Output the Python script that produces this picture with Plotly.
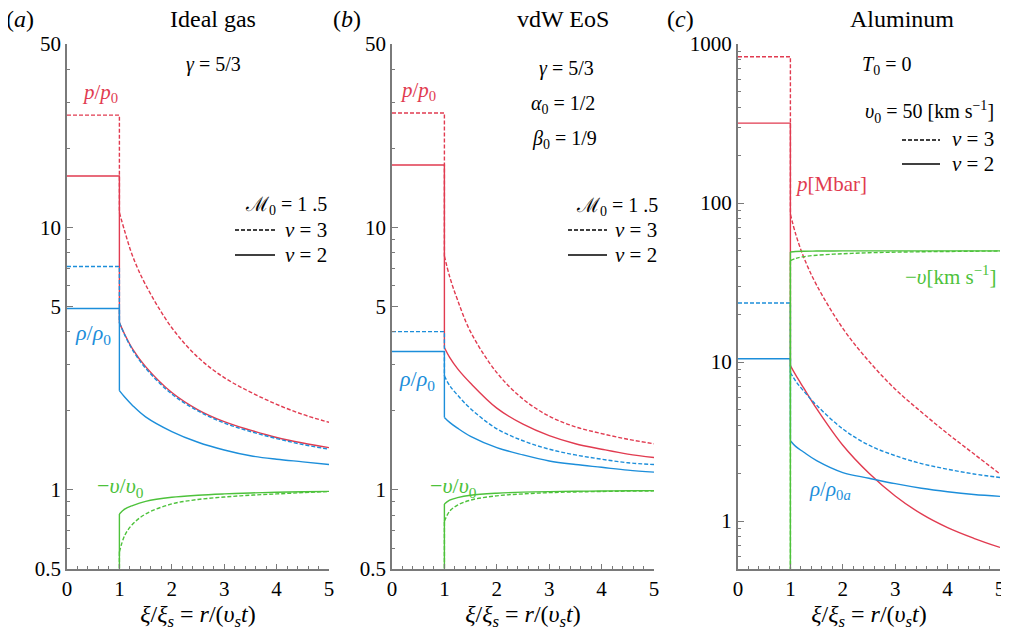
import plotly.graph_objects as go
import math

# ---------------- data ----------------
# abscissa samples outside the shock, xi/xi_s
XI = [1.0, 1.1, 1.25, 1.5, 2.0, 2.5, 3.0, 3.5, 4.0, 4.5, 5.0]

# (a) ideal gas : plateau values inside the shock (0 < xi < 1)
A_P3_IN, A_P2_IN = 26.8, 15.7
A_R3_IN, A_R2_IN = 7.1, 4.91
A_V_IN = 0.0
# (a) outside the shock
A_P3 = [11.4, 9.7, 7.8, 6.05, 4.15, 3.2, 2.68, 2.36, 2.12, 1.94, 1.81]
A_P2 = [4.34, 3.92, 3.45, 2.95, 2.35, 2.02, 1.82, 1.69, 1.585, 1.51, 1.45]
A_R3 = [4.34, 3.90, 3.42, 2.91, 2.32, 2.00, 1.80, 1.67, 1.57, 1.49, 1.43]
A_R2 = [2.39, 2.26, 2.10, 1.90, 1.67, 1.52, 1.42, 1.35, 1.31, 1.28, 1.25]
A_V3 = [0.58, 0.67, 0.74, 0.81, 0.885, 0.92, 0.94, 0.955, 0.966, 0.977, 0.986]
A_V2 = [0.81, 0.845, 0.872, 0.905, 0.938, 0.955, 0.966, 0.974, 0.980, 0.985, 0.988]

# (b) vdW EoS
B_P3_IN, B_P2_IN = 27.3, 17.3
B_R3_IN, B_R2_IN = 4.01, 3.37
B_V_IN = 0.0
B_P3 = [7.79, 6.5, 5.3, 4.0, 2.80, 2.22, 1.91, 1.74, 1.64, 1.56, 1.50]
B_P2 = [3.49, 3.2, 2.9, 2.55, 2.05, 1.78, 1.61, 1.50, 1.43, 1.37, 1.33]
B_R3 = [2.72, 2.5, 2.3, 2.04, 1.71, 1.54, 1.43, 1.36, 1.31, 1.27, 1.25]
B_R2 = [1.89, 1.81, 1.72, 1.60, 1.45, 1.36, 1.29, 1.25, 1.22, 1.19, 1.17]
B_V3 = [0.76, 0.83, 0.875, 0.915, 0.95, 0.966, 0.977, 0.983, 0.987, 0.990, 0.992]
B_V2 = [0.885, 0.915, 0.935, 0.955, 0.972, 0.981, 0.986, 0.989, 0.991, 0.993, 0.994]

# (c) aluminum
C_P3_IN, C_P2_IN = 832.0, 318.0
C_R3_IN, C_R2_IN = 23.5, 10.5
C_V_IN = 0.0
C_P3 = [85.0, 64.0, 46.0, 30.5, 16.3, 10.1, 6.76, 4.85, 3.55, 2.65, 1.98]
C_P2 = [9.5, 8.3, 6.9, 5.1, 3.0, 2.0, 1.44, 1.11, 0.91, 0.78, 0.683]
C_R3 = [8.6, 7.6, 6.6, 5.35, 3.8, 3.0, 2.58, 2.3, 2.12, 1.98, 1.88]
C_R2 = [3.2, 2.95, 2.72, 2.4, 2.02, 1.86, 1.72, 1.61, 1.53, 1.47, 1.43]
C_V3 = [43.5, 44.8, 46.0, 47.0, 48.0, 48.7, 49.1, 49.4, 49.6, 49.8, 49.9]
C_V2 = [49.2, 49.6, 49.8, 49.9, 50.0, 50.0, 50.0, 50.0, 50.0, 50.0, 50.0]

X_TICKS = [0, 1, 2, 3, 4, 5]
AB_YTICKS = [0.5, 1, 5, 10, 50]
AB_YTEXT = ["0.5", "1", "5", "10", "50"]
C_YTICKS = [1, 10, 100, 1000]
C_YTEXT = ["1", "10", "100", "1000"]

# ---------------- styles ----------------
RED = "#E13B50"
BLUE = "#1C8EDA"
GREEN = "#4DC23B"
DASH = "4px,2px"
LW = 1.4
FONT = "Liberation Serif, Times New Roman, serif"
OFF = 8                      # page body margin of the html page
W, H = 1009 - OFF, 634 - OFF
FLOOR = 1e-3  # display value for zero velocity on a log axis


def fx(px):
    return (px - OFF) / W


def fy(py):
    return 1 - (py - OFF) / H


fig = go.Figure()


def add_series(k, y_in, ys, color, dash):
    xa = "x" if k == 1 else f"x{k}"
    ya = "y" if k == 1 else f"y{k}"
    yin = y_in if y_in > 0 else FLOOR
    line = dict(color=color, width=LW, dash=dash)
    fig.add_trace(go.Scatter(x=[0, XI[0], XI[0]], y=[yin, yin, ys[0]], mode="lines",
                             line=line, xaxis=xa, yaxis=ya, showlegend=False, hoverinfo="skip"))
    fig.add_trace(go.Scatter(x=XI, y=ys, mode="lines", line=dict(line, shape="spline", smoothing=1.0),
                             xaxis=xa, yaxis=ya, showlegend=False))


panels = [
    (1, [(A_P3_IN, A_P3, RED, DASH), (A_P2_IN, A_P2, RED, "solid"),
         (A_R3_IN, A_R3, BLUE, DASH), (A_R2_IN, A_R2, BLUE, "solid"),
         (A_V_IN, A_V3, GREEN, DASH), (A_V_IN, A_V2, GREEN, "solid")]),
    (2, [(B_P3_IN, B_P3, RED, DASH), (B_P2_IN, B_P2, RED, "solid"),
         (B_R3_IN, B_R3, BLUE, DASH), (B_R2_IN, B_R2, BLUE, "solid"),
         (B_V_IN, B_V3, GREEN, DASH), (B_V_IN, B_V2, GREEN, "solid")]),
    (3, [(C_P3_IN, C_P3, RED, DASH), (C_P2_IN, C_P2, RED, "solid"),
         (C_R3_IN, C_R3, BLUE, DASH), (C_R2_IN, C_R2, BLUE, "solid"),
         (C_V_IN, C_V3, GREEN, DASH), (C_V_IN, C_V2, GREEN, "solid")]),
]
for k, series in panels:
    for s in series:
        add_series(k, *s)

# ---------------- axes ----------------
XDOM = [(67, 329), (392, 654), (738, 1000)]
YDOM = [fy(569), fy(44)]
AXC = "#7a7a7a"
tickfont = dict(family=FONT, size=21, color="black")
minor_ab = [0.6, 0.7, 0.8, 0.9, 2, 3, 4, 6, 7, 8, 9, 20, 30, 40]
minor_c = [0.6, 0.7, 0.8, 0.9] + [i for i in range(2, 10)] + [10 * i for i in range(2, 10)] + [100 * i for i in range(2, 10)]
xtitle = "<i>ξ</i>/<i>ξ</i><sub><i>s</i></sub> = <i>r</i>/(<i>υ</i><sub><i>s</i></sub><i>t</i>)"

lay = {}
for i, (x0, x1) in enumerate(XDOM, start=1):
    xs = "xaxis" if i == 1 else f"xaxis{i}"
    ys = "yaxis" if i == 1 else f"yaxis{i}"
    lay[xs] = dict(domain=[fx(x0), fx(x1)], range=[0, 5], anchor="y" if i == 1 else f"y{i}",
                   tickvals=X_TICKS, ticks="inside", ticklen=5, tickwidth=1, tickcolor=AXC,
                   minor=dict(dtick=0.2, tick0=0, ticks="inside", ticklen=3, tickcolor=AXC),
                   showline=True, linecolor=AXC, linewidth=1.5, showgrid=False, zeroline=False,
                   tickfont=tickfont, automargin=False,
                   title=dict(text=xtitle, font=dict(family=FONT, size=24, color="black"), standoff=4))
    if i < 3:
        yr = [math.log10(0.5), math.log10(50)]
        tv, tt, mv = AB_YTICKS, AB_YTEXT, minor_ab
    else:
        yr = [math.log10(0.5), 3]
        tv, tt, mv = C_YTICKS, C_YTEXT, minor_c
    lay[ys] = dict(domain=YDOM, type="log", range=yr, anchor="x" if i == 1 else f"x{i}",
                   tickvals=tv, ticktext=tt, ticks="inside", ticklen=6, tickwidth=1, tickcolor=AXC,
                   minor=dict(tickvals=mv, ticks="inside", ticklen=3, tickcolor=AXC),
                   showline=True, linecolor=AXC, linewidth=2.2 if i == 3 else 1.5,
                   showgrid=False, zeroline=False, tickfont=tickfont, automargin=False)


# ---------------- annotations ----------------
def ann(px, py, text, color="black", size=20, xanchor="center"):
    return dict(x=fx(px), y=fy(py), xref="paper", yref="paper", text=text, showarrow=False,
                xanchor=xanchor, yanchor="middle", font=dict(family=FONT, size=size, color=color))


M0 = "ℳ<sub>0</sub> = 1 .5"
NU3 = "<i>ν</i> = 3"
NU2 = "<i>ν</i> = 2"
annotations = [
    ann(20, 19, "(<i>a</i>)", size=24), ann(213, 19, "Ideal gas", size=24),
    ann(347, 19, "(<i>b</i>)", size=24), ann(563, 19, "vdW EoS", size=24),
    ann(680, 19, "(<i>c</i>)", size=24), ann(902, 19, "Aluminum", size=24),
    # panel a
    ann(213, 64, "<i>γ</i> = 5/3", size=20),
    ann(100, 93, "<i>p</i>/<i>p</i><sub>0</sub>", RED, 21),
    ann(329, 205, M0, size=20, xanchor="right"),
    ann(329, 230, NU3, size=21, xanchor="right"),
    ann(329, 255, NU2, size=21, xanchor="right"),
    ann(93, 334, "<i>ρ</i>/<i>ρ</i><sub>0</sub>", BLUE, 22),
    ann(120, 487, "−<i>υ</i>/<i>υ</i><sub>0</sub>", GREEN, 22),
    # panel b
    ann(566, 69, "<i>γ</i> = 5/3", size=20),
    ann(563, 105, "<i>α</i><sub>0</sub> = 1/2", size=20),
    ann(564, 140, "<i>β</i><sub>0</sub> = 1/9", size=20),
    ann(418, 91, "<i>p</i>/<i>p</i><sub>0</sub>", RED, 21),
    ann(660, 206, M0, size=20, xanchor="right"),
    ann(659, 230, NU3, size=21, xanchor="right"),
    ann(659, 255, NU2, size=21, xanchor="right"),
    ann(417, 380, "<i>ρ</i>/<i>ρ</i><sub>0</sub>", BLUE, 22),
    ann(453, 487, "−<i>υ</i>/<i>υ</i><sub>0</sub>", GREEN, 22),
    # panel c
    ann(886, 65, "<i>T</i><sub>0</sub> = 0", size=20),
    ann(996, 112, "<i>υ</i><sub>0</sub> = 50 [km s<sup>−1</sup>]", size=20, xanchor="right"),
    ann(996, 139, NU3, size=21, xanchor="right"),
    ann(996, 164, NU2, size=21, xanchor="right"),
    ann(793, 184, "<i>p</i>[Mbar]", RED, 21, xanchor="left"),
    ann(998, 275, "−<i>υ</i>[km s<sup>−1</sup>]", GREEN, 21, xanchor="right"),
    ann(830, 490, "<i>ρ</i>/<i>ρ</i><sub>0<i>a</i></sub>", BLUE, 21),
]


def key(px0, px1, py, dash):
    return dict(type="line", xref="paper", yref="paper", x0=fx(px0), x1=fx(px1),
                y0=fy(py), y1=fy(py), line=dict(color="black", width=1.5, dash=dash))


shapes = [
    key(235, 275, 230, DASH), key(235, 275, 255, "solid"),
    key(568, 607, 230, DASH), key(568, 607, 255, "solid"),
    key(902, 940, 140, DASH), key(902, 940, 164, "solid"),
]

fig.update_layout(width=W, height=H, margin=dict(l=0, r=0, t=0, b=0, autoexpand=False),
                  paper_bgcolor="white", plot_bgcolor="white", showlegend=False,
                  annotations=annotations, shapes=shapes, **lay)

fig.write_html("out.html")
